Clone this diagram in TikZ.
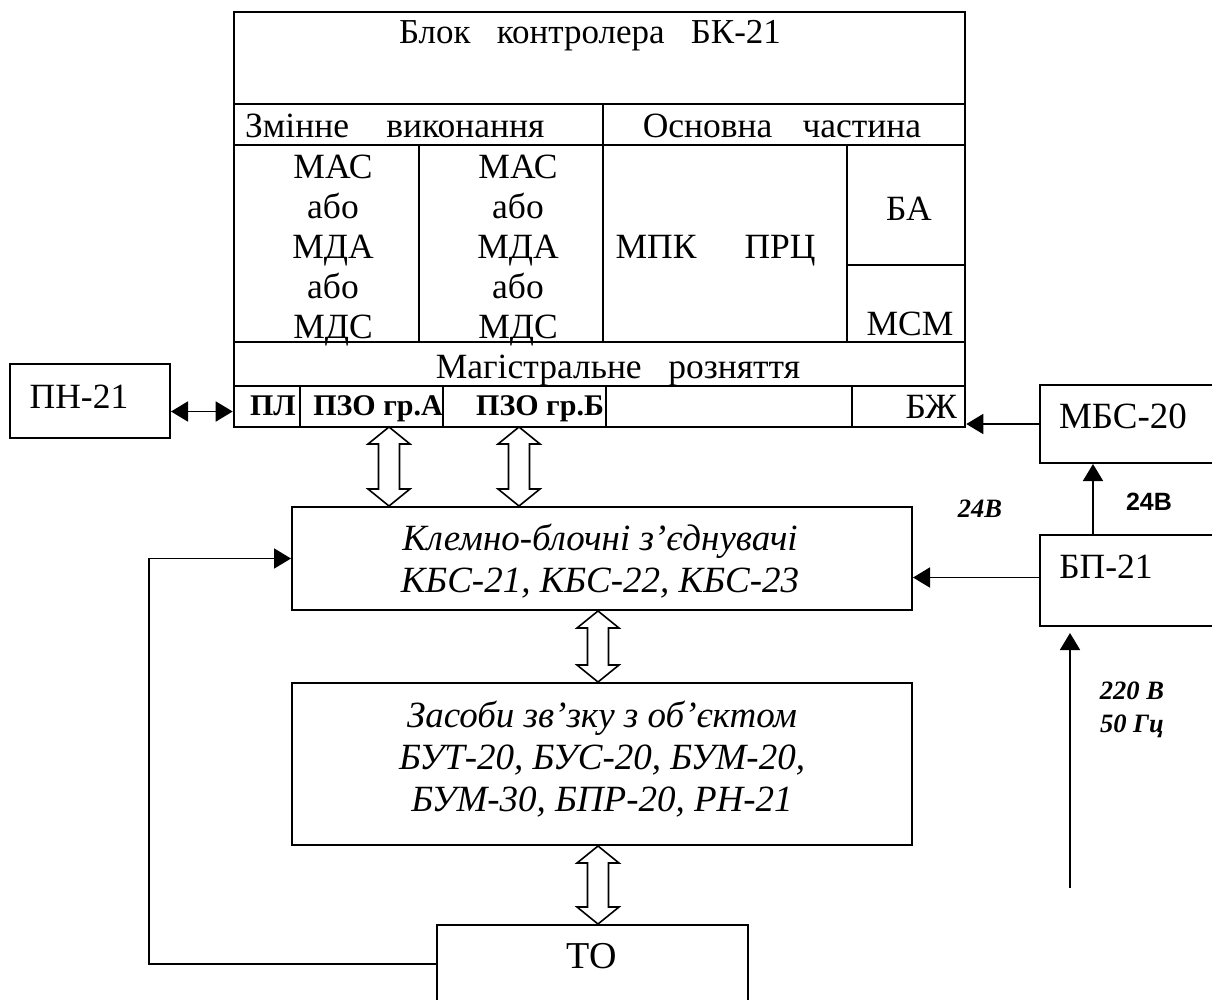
\documentclass[tikz,border=0pt]{standalone}
\usepackage{fontspec}
\setmainfont{Liberation Serif}
\newfontfamily\sansbf{Liberation Sans}
\usetikzlibrary{arrows.meta,calc,fit}

% hollow two-way bus arrow, upper point first
\newcommand{\busarrow}[2]{%
  \draw[bus] let \p1=(#1), \p2=(#2) in
    (\x1,\y1) -- (\x1+21pt,\y1-17pt) -- (\x1+10.5pt,\y1-17pt)
    -- (\x1+10.5pt,\y2+17pt) -- (\x1+21pt,\y2+17pt) -- (\x1,\y2)
    -- (\x1-21pt,\y2+17pt) -- (\x1-10.5pt,\y2+17pt)
    -- (\x1-10.5pt,\y1-17pt) -- (\x1-21pt,\y1-17pt) -- cycle;}

\begin{document}
\begin{tikzpicture}[x=1pt,y=-1pt,>={Triangle[length=17pt,width=20pt]},
  cell/.style={draw,line width=2.6pt,inner sep=0pt},
  box/.style={draw,line width=2pt,inner sep=0pt},
  txt/.style={inner sep=0pt,anchor=base,font=\fontsize{35.5}{41}\selectfont},
  itxt/.style={txt,font=\fontsize{37}{43}\selectfont\itshape},
  btxt/.style={txt,font=\fontsize{30}{35}\selectfont\bfseries},
  note/.style={txt,font=\fontsize{26.5}{31}\selectfont\bfseries\itshape},
  link/.style={line width=1.8pt},
  bus/.style={line width=1.6pt,fill=white,line join=miter}]
\useasboundingbox (0,0) rectangle (1212,999);
\clip (0,0) rectangle (1212,999);
% controller block BK-21, cell by cell
\node[cell,fit={(234,12) (965,104)}] (title) {};
\node[cell,fit={(234,104) (603,145)}] (varhead) {};
\node[cell,fit={(603,104) (965,145)}] (basehead) {};
\node[cell,fit={(234,145) (419,342)}] (slota) {};
\node[cell,fit={(419,145) (603,342)}] (slotb) {};
\node[cell,fit={(603,145) (847,342)}] (cpu) {};
\node[cell,fit={(847,145) (965,265)}] (ba) {};
\node[cell,fit={(847,265) (965,342)}] (msm) {};
\node[cell,fit={(234,342) (965,386)}] (trunk) {};
\node[cell,fit={(234,386) (300,427)}] (pl) {};
\node[cell,fit={(300,386) (443,427)}] (pzoa) {};
\node[cell,fit={(443,386) (606,427)}] (pzob) {};
\node[cell,fit={(606,386) (852,427)}] (spare) {};
\node[cell,fit={(852,386) (965,427)}] (bzh) {};
% block texts
\node[txt,font=\fontsize{35}{40}\selectfont] (titlet) at (590,43) {Блок\hspace{0.5em} контролера\hspace{0.5em} БК-21};
\node[txt,anchor=base west] (vart) at (245,137) {Змінне\hspace{0.8em} виконання};
\node[txt] (baset) at (782,137) {Основна\hspace{0.6em} частина};
\foreach \t [count=\i] in {МАС,або,МДА,або,МДС} {
  \node[txt] (ma\i) at (333,138+40*\i) {\t};
  \node[txt] (mb\i) at (518,138+40*\i) {\t};
}
\node[txt] (mpk) at (656,258) {МПК};
\node[txt] (prc) at (780,258) {ПРЦ};
\node[txt] (bat) at (909,220) {БА};
\node[txt] (msmt) at (910,335) {МСМ};
\node[txt] (trunkt) at (618,378) {Магістральне\hspace{0.5em} розняття};
\node[btxt] (plt) at (273,415) {ПЛ};
\node[btxt] (pzoat) at (378,415) {ПЗО гр.А};
\node[btxt] (pzobt) at (540,415) {ПЗО гр.Б};
\node[txt,anchor=base east] (bzht) at (957,418) {БЖ};
% outer units
\node[box,fit={(10,364) (170,438)}] (pn) {};
\node[txt] (pnt) at (79,408) {ПН-21};
\node[box,fit={(1040,385) (1214,463)}] (mbs) {};
\node[txt,font=\fontsize{37}{43}\selectfont] (mbst) at (1123,428) {МБС-20};
\node[box,fit={(1040,535) (1214,626)}] (bp) {};
\node[txt] (bpt) at (1106,578) {БП-21};
\node[box,fit={(292,507) (912,610)}] (kbs) {};
\node[itxt] (kbs1) at (600,550) {Клемно-блочні з’єднувачі};
\node[itxt] (kbs2) at (600,592) {КБС-21, КБС-22, КБС-23};
\node[box,fit={(292,683) (912,845)}] (zas) {};
\node[itxt] (zas1) at (602,727) {Засоби зв’зку з об’єктом};
\node[itxt] (zas2) at (602,769) {БУТ-20, БУС-20, БУМ-20,};
\node[itxt] (zas3) at (602,811) {БУМ-30, БПР-20, РН-21};
\node[box,fit={(437,925) (748,1003)}] (to) {};
\node[txt,font=\fontsize{38}{44}\selectfont] (tot) at (592,968) {ТО};
% supply labels
\node[txt,font=\sansbf\bfseries\fontsize{25}{30}\selectfont] (v24) at (1149,510) {24В};
\node[note] (v24i) at (980,517) {24В};
\node[note] (ac1) at (1132,699) {220 В};
\node[note] (ac2) at (1132,732) {50 Гц};
% connector points
\coordinate (ha) at (389,427);
\coordinate (hb) at (519,427);
\coordinate (hc) at (598,0);
\coordinate (up) at (1093,0);
\coordinate (fb) at (149,0);
\coordinate (mains) at (1070,888);
\coordinate (plin) at ([yshift=-5pt]pl.west);
\coordinate (bpout) at ([yshift=3pt]bp.west);
% plain links
\draw[link,<->] (pn.east |- plin) -- (plin);
\draw[link,->] (mbs.west) -- (mbs.west -| bzh.east);
\draw[link,->] (bp.north -| up) -- (mbs.south -| up);
\draw[link,->] (bpout) -- (bpout -| kbs.east);
\draw[link,->,shorten >=6pt] (mains) -- (mains |- bp.south);
\draw[link,->] (to.west) -- (to.west -| fb) |- (kbs.west);
% bus arrows
\busarrow{ha}{kbs.north -| ha}
\busarrow{hb}{kbs.north -| hb}
\busarrow{kbs.south -| hc}{zas.north -| hc}
\busarrow{zas.south -| hc}{to.north -| hc}
\end{tikzpicture}
\end{document}
